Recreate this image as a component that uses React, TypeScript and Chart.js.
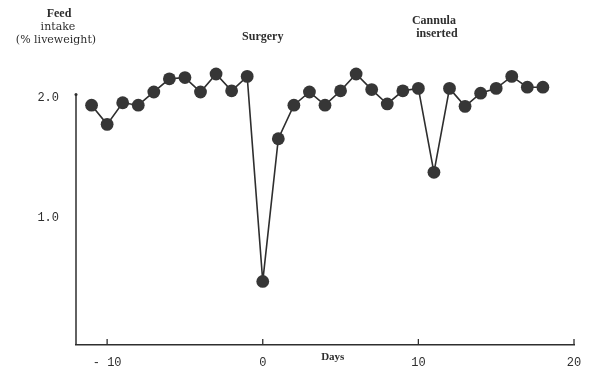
import React, { useEffect, useRef } from "react";
import { Chart, registerables } from "chart.js";

Chart.register(...registerables);

const days = [-11, -10, -9, -8, -7, -6, -5, -4, -3, -2, -1, 0, 1, 2, 3, 4, 5, 6, 7, 8, 9, 10, 11, 12, 13, 14, 15, 16, 17, 18];
const intake = [1.94, 1.78, 1.96, 1.94, 2.05, 2.16, 2.17, 2.05, 2.2, 2.06, 2.18, 0.47, 1.66, 1.94, 2.05, 1.94, 2.06, 2.2, 2.07, 1.95, 2.06, 2.08, 1.38, 2.08, 1.93, 2.04, 2.08, 2.18, 2.09, 2.09];
const xTickValues = [-10, 0, 10, 20];
const yTickValues = [1, 2];
const yAxisTitle = ["Feed", "intake", "(% liveweight)"];
const xAxisTitle = "Days";
const notes = [
  { day: 0, lines: ["Surgery"], y: 37 },
  { day: 11, lines: ["Cannula", "inserted"], y: 21 },
];

const INK = "#2e2e2e";

export default function App() {
  const ref = useRef<HTMLCanvasElement | null>(null);

  useEffect(() => {
    const canvas = ref.current;
    if (!canvas) return;

    const decor = {
      id: "decor",
      afterDraw(chart: any) {
        const ctx = chart.ctx;
        const xs = chart.scales.x;
        const ys = chart.scales.y;
        const area = chart.chartArea;
        ctx.save();
        ctx.strokeStyle = INK;
        ctx.fillStyle = INK;
        // y axis line (stops just above 2.0)
        ctx.lineWidth = 1.5;
        ctx.beginPath();
        ctx.moveTo(area.left, area.bottom);
        ctx.lineTo(area.left, ys.getPixelForValue(2.03));
        ctx.stroke();
        ctx.beginPath();
        ctx.arc(area.left, ys.getPixelForValue(2.03), 1.5, 0, Math.PI * 2);
        ctx.fill();
        // upward x ticks
        ctx.lineWidth = 1.3;
        for (const v of xTickValues) {
          const px = xs.getPixelForValue(v);
          ctx.beginPath();
          ctx.moveTo(px, area.bottom);
          ctx.lineTo(px, area.bottom - 6);
          ctx.stroke();
        }
        // y axis title
        ctx.textAlign = "center";
        ctx.textBaseline = "middle";
        ctx.font = "bold 12px 'Liberation Serif'";
        ctx.fillText(yAxisTitle[0], 59, 14);
        ctx.font = "11px 'DejaVu Serif'";
        ctx.fillText(yAxisTitle[1], 58, 27);
        ctx.fillText(yAxisTitle[2], 56, 40);
        // x axis title
        ctx.font = "bold 11px 'Liberation Serif'";
        ctx.fillText(xAxisTitle, xs.getPixelForValue(4.5), area.bottom + 12);
        // annotations
        ctx.font = "bold 12px 'Liberation Serif'";
        for (const n of notes) {
          const px = xs.getPixelForValue(n.day);
          n.lines.forEach((t, i) => ctx.fillText(t, px + i * 3, n.y + i * 13));
        }
        ctx.restore();
      },
    };

    const chart = new Chart(canvas, {
      type: "line",
      data: {
        datasets: [
          {
            data: days.map((d, i) => ({ x: d, y: intake[i] })),
            borderColor: INK,
            borderWidth: 1.6,
            backgroundColor: "#363636",
            pointBackgroundColor: "#363636",
            pointBorderColor: "#363636",
            pointRadius: 6.4,
            pointBorderWidth: 0,
            tension: 0,
            fill: false,
          },
        ],
      },
      options: {
        animation: false,
        responsive: false,
        events: [],
        layout: { padding: { top: 62, right: 26, left: 0, bottom: 0 } },
        plugins: { legend: { display: false }, tooltip: { enabled: false }, title: { display: false } },
        scales: {
          x: {
            type: "linear",
            min: -12,
            max: 20,
            afterBuildTicks: (s: any) => {
              s.ticks = xTickValues.map((v) => ({ value: v }));
            },
            afterFit: (s: any) => {
              s.height = 43;
            },
            grid: { display: false, drawTicks: false },
            border: { display: true, color: INK, width: 1.5 },
            ticks: {
              padding: 11,
              color: INK,
              font: { family: "'Liberation Mono'", size: 12 },
              maxRotation: 0,
              callback: (v: any) => (v < 0 ? "- " + Math.abs(v) : String(v)),
            },
          },
          y: {
            type: "linear",
            min: -0.06,
            max: 2.3,
            afterBuildTicks: (s: any) => {
              s.ticks = yTickValues.map((v) => ({ value: v }));
            },
            afterFit: (s: any) => {
              s.width = 76;
            },
            grid: { display: false, drawTicks: false },
            border: { display: false },
            ticks: {
              padding: 17,
              color: INK,
              font: { family: "'Liberation Mono'", size: 12 },
              callback: (v: any) => Number(v).toFixed(1),
            },
          },
        },
      },
      plugins: [decor],
    } as any);

    return () => chart.destroy();
  }, []);

  return (
    <div style={{ position: "absolute", left: 0, top: 0, width: 600, height: 388, background: "#fff" }}>
      <canvas ref={ref} width={600} height={388} style={{ display: "block" }} />
    </div>
  );
}
